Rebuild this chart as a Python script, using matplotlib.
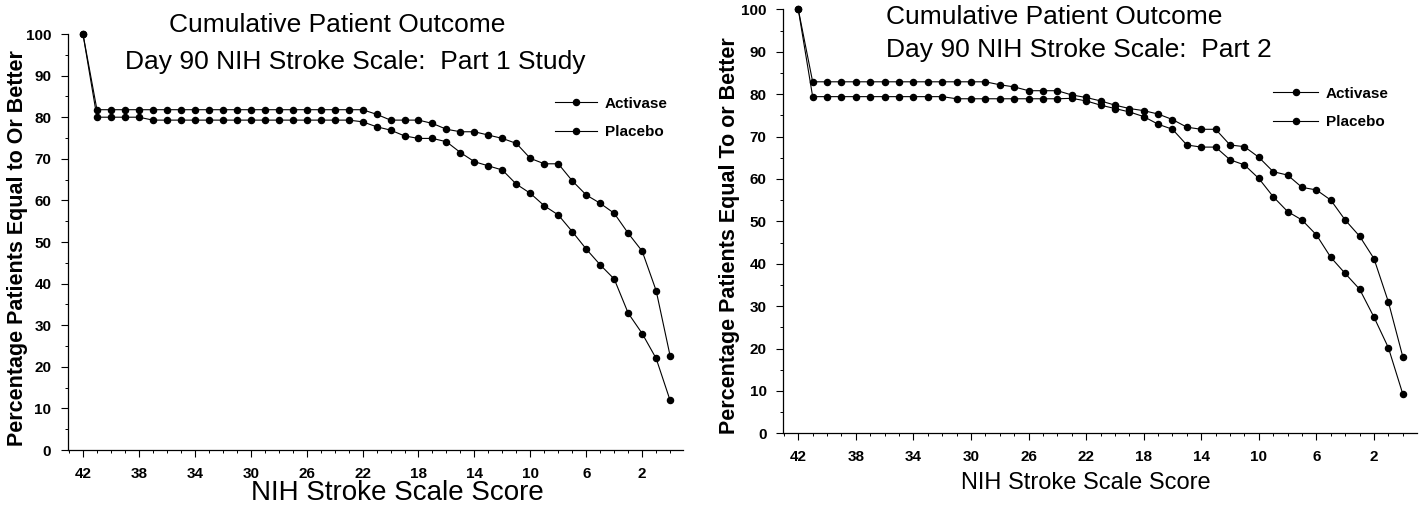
"""
Cumulative patient outcome curves (day 90 NIH Stroke Scale), Part 1 and Part 2.
"""
import matplotlib
matplotlib.use('Agg')
import matplotlib.pyplot as plt
from matplotlib.ticker import MultipleLocator, FixedLocator

plt.rcParams['font.family'] = ['Liberation Sans', 'DejaVu Sans']

# NIH stroke scale score, 42 down to 0
scores = [42, 41, 40, 39, 38, 37, 36, 35, 34, 33, 32, 31, 30, 29, 28, 27, 26, 25, 24, 23, 22,
          21, 20, 19, 18, 17, 16, 15, 14, 13, 12, 11, 10, 9, 8, 7, 6, 5, 4, 3, 2, 1, 0]
tick_scores = [42, 38, 34, 30, 26, 22, 18, 14, 10, 6, 2]

# Part 1 study
part1_activase = [100, 81.8, 81.8, 81.8, 81.8, 81.8, 81.8, 81.8, 81.8, 81.8, 81.8, 81.8, 81.8,
                  81.8, 81.8, 81.8, 81.8, 81.8, 81.8, 81.8, 81.8,
                  80.7, 79.3, 79.3, 79.3, 78.5, 77.1, 76.5, 76.5, 75.7, 74.9, 73.7, 70.1, 68.8,
                  68.8, 64.7, 61.3, 59.3, 56.9, 52.1, 47.8, 38.3, 22.6]
part1_placebo = [100, 80.0, 80.0, 80.0, 80.0, 79.3, 79.3, 79.3, 79.3, 79.3, 79.3, 79.3, 79.3,
                 79.3, 79.3, 79.3, 79.3, 79.3, 79.3, 79.3, 78.9,
                 77.7, 76.9, 75.5, 74.9, 74.9, 74.1, 71.5, 69.3, 68.3, 67.3, 63.9, 61.7, 58.7,
                 56.5, 52.5, 48.3, 44.5, 41.1, 32.9, 28.0, 22.0, 11.9]

# Part 2
part2_activase = [100, 82.9, 82.9, 82.9, 82.9, 82.9, 82.9, 82.9, 82.9, 82.9, 82.9, 82.9, 82.9,
                  82.9, 82.2, 81.7, 80.8, 80.8, 80.8, 79.8, 79.2,
                  78.4, 77.4, 76.6, 76.1, 75.3, 74.0, 72.2, 71.7, 71.7, 68.0, 67.6, 65.1, 61.7,
                  60.9, 58.0, 57.4, 55.0, 50.3, 46.5, 41.2, 31.0, 18.1]
part2_placebo = [100, 79.4, 79.4, 79.4, 79.4, 79.4, 79.4, 79.4, 79.4, 79.4, 79.4, 78.9, 78.9,
                 78.9, 78.9, 78.9, 78.9, 78.9, 78.9, 79.0, 78.4,
                 77.4, 76.6, 75.8, 74.7, 72.9, 71.7, 68.0, 67.5, 67.5, 64.5, 63.3, 60.1, 55.8,
                 52.3, 50.3, 46.8, 41.5, 37.7, 34.0, 27.4, 20.2, 9.3]

W, H = 1426, 505


def fx(px):
    return px / W


def fy(py):
    return 1 - py / H


def draw_panel(ax, activase, placebo, xlim, ylabel, legend_anchor, handlelen):
    """Draws one cumulative outcome panel."""
    ax.plot(scores, activase, color='black', lw=0.8, marker='o', ms=4.4, clip_on=False,
            label='Activase')
    ax.plot(scores, placebo, color='black', lw=0.8, marker='o', ms=4.4, clip_on=False,
            label='Placebo')
    ax.set_xlim(*xlim)
    ax.set_ylim(0, 100)

    ax.spines['top'].set_visible(False)
    ax.spines['right'].set_visible(False)
    ax.spines['left'].set_linewidth(0.9)
    ax.spines['bottom'].set_linewidth(0.9)

    ax.xaxis.set_major_locator(FixedLocator(tick_scores))
    ax.xaxis.set_minor_locator(MultipleLocator(1))
    ax.yaxis.set_major_locator(MultipleLocator(10))
    ax.yaxis.set_minor_locator(MultipleLocator(5))
    ax.tick_params(axis='both', which='major', direction='out', length=5, width=0.8,
                   labelsize=11, pad=7)
    ax.tick_params(axis='both', which='minor', direction='out', length=2.5, width=0.7)
    for lab in ax.get_xticklabels() + ax.get_yticklabels():
        lab.set_fontweight('bold')

    ax.set_ylabel(ylabel, fontsize=15.5, fontweight='bold')

    ax.legend(loc='center left', bbox_to_anchor=legend_anchor,
              bbox_transform=ax.figure.transFigure, frameon=False,
              borderpad=0, borderaxespad=0, handlelength=handlelen,
              handletextpad=0.5, labelspacing=0.95, prop={'size': 11, 'weight': 'bold'})


fig = plt.figure(figsize=(W / 100, H / 100), dpi=100)

ax1 = fig.add_axes([fx(68), fy(450), fx(683 - 68), 416 / H])
draw_panel(ax1, part1_activase, part1_placebo, (43.07, -0.92),
           'Percentage Patients Equal to Or Better', (fx(555), fy(118)), 2.75)

ax2 = fig.add_axes([fx(783.3), fy(433.3), fx(1417 - 783.3), 424 / H])
draw_panel(ax2, part2_activase, part2_placebo, (43.04, -0.99),
           'Percentage Patients Equal To or Better', (fx(1273), fy(108)), 2.95)

# y labels placed in figure pixels
ax1.yaxis.set_label_coords(fx(18), fy(248), transform=fig.transFigure)
ax2.yaxis.set_label_coords(fx(730), fy(236), transform=fig.transFigure)
ax1.yaxis.label.set_va('center')
ax2.yaxis.label.set_va('center')

# titles
fig.text(fx(337), fy(25), 'Cumulative Patient Outcome', fontsize=19, ha='center', va='center')
fig.text(fx(355), fy(62), 'Day 90 NIH Stroke Scale:  Part 1 Study', fontsize=19,
         ha='center', va='center')
fig.text(fx(1054), fy(17), 'Cumulative Patient Outcome', fontsize=19, ha='center', va='center')
fig.text(fx(1079), fy(50), 'Day 90 NIH Stroke Scale:  Part 2', fontsize=19,
         ha='center', va='center')

# x labels
fig.text(fx(397), fy(493), 'NIH Stroke Scale Score', fontsize=20, ha='center', va='center')
fig.text(fx(1086), fy(483), 'NIH Stroke Scale Score', fontsize=17, ha='center', va='center')

fig.savefig('out.png', dpi=100)
